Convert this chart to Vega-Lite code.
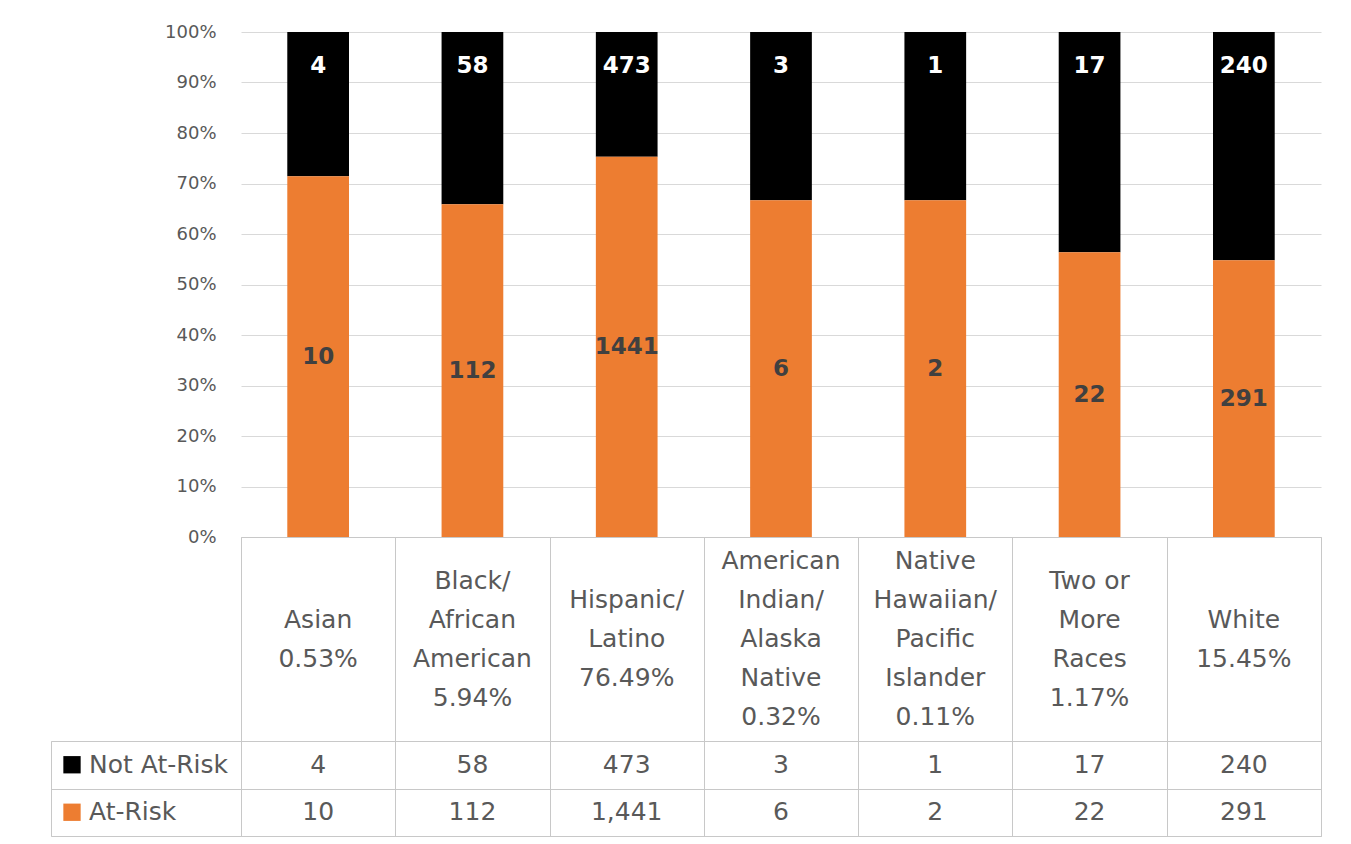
{
  "$schema": "https://vega.github.io/schema/vega-lite/v6.json",
  "background": "white",
  "padding": {"left": 50, "top": 23, "right": 31, "bottom": 8},
  "columns": 2,
  "spacing": 0,
  "bounds": "flush",
  "config": {"font": "DejaVu Sans", "view": {"stroke": null}},
  "datasets": {
    "main": [
      {"group": "Asian", "status": "Not At-Risk", "count": 4},
      {"group": "Asian", "status": "At-Risk", "count": 10},
      {"group": "Black/African American", "status": "Not At-Risk", "count": 58},
      {"group": "Black/African American", "status": "At-Risk", "count": 112},
      {"group": "Hispanic/Latino", "status": "Not At-Risk", "count": 473},
      {"group": "Hispanic/Latino", "status": "At-Risk", "count": 1441},
      {"group": "American Indian/Alaska Native", "status": "Not At-Risk", "count": 3},
      {"group": "American Indian/Alaska Native", "status": "At-Risk", "count": 6},
      {"group": "Native Hawaiian/Pacific Islander", "status": "Not At-Risk", "count": 1},
      {"group": "Native Hawaiian/Pacific Islander", "status": "At-Risk", "count": 2},
      {"group": "Two or More Races", "status": "Not At-Risk", "count": 17},
      {"group": "Two or More Races", "status": "At-Risk", "count": 22},
      {"group": "White", "status": "Not At-Risk", "count": 240},
      {"group": "White", "status": "At-Risk", "count": 291}
    ],
    "groups": [
      {"group": "Asian", "label": "Asian\n0.53%"},
      {"group": "Black/African American", "label": "Black/\nAfrican\nAmerican\n5.94%"},
      {"group": "Hispanic/Latino", "label": "Hispanic/\nLatino\n76.49%"},
      {"group": "American Indian/Alaska Native", "label": "American\nIndian/\nAlaska\nNative\n0.32%"},
      {"group": "Native Hawaiian/Pacific Islander", "label": "Native\nHawaiian/\nPacific\nIslander\n0.11%"},
      {"group": "Two or More Races", "label": "Two or\nMore\nRaces\n1.17%"},
      {"group": "White", "label": "White\n15.45%"}
    ],
    "legend": [
      {"status": "Not At-Risk"},
      {"status": "At-Risk"}
    ]
  },
  "concat": [
    {
      "width": 190, "height": 505,
      "data": {"name": "legend"},
      "mark": {"type": "text", "text": ""},
      "encoding": {}
    },
    {
      "width": 1080, "height": 505,
      "data": {"name": "main"},
      "encoding": {
        "x": {"field": "group", "type": "nominal", "sort": null, "scale": {"paddingInner": 0.6, "paddingOuter": 0.3}, "axis": null}
      },
      "layer": [
        {
          "mark": {"type": "bar"},
          "encoding": {
            "y": {"field": "count", "type": "quantitative", "stack": "normalize",
              "axis": {"values": [0, 0.1, 0.2, 0.3, 0.4, 0.5, 0.6, 0.7, 0.8, 0.9, 1], "format": ".0%", "title": null, "domain": false, "ticks": false, "tickSize": 0, "labelPadding": 25, "labelFontSize": 18, "labelColor": "#595959", "grid": true, "gridColor": "#D9D9D9"}},
            "color": {"field": "status", "type": "nominal", "scale": {"domain": ["Not At-Risk", "At-Risk"], "range": ["#000000", "#ED7D31"]}, "legend": null},
            "order": {"field": "status", "sort": "ascending"}
          }
        },
        {
          "mark": {"type": "text", "fontSize": 23, "fontWeight": "bold", "color": "#404040", "baseline": "middle"},
          "encoding": {
            "y": {"field": "count", "type": "quantitative", "stack": "normalize", "bandPosition": 0.5,
              "axis": {"values": [0, 0.1, 0.2, 0.3, 0.4, 0.5, 0.6, 0.7, 0.8, 0.9, 1], "format": ".0%", "title": null, "domain": false, "ticks": false, "tickSize": 0, "labelPadding": 25, "labelFontSize": 18, "labelColor": "#595959", "grid": true, "gridColor": "#D9D9D9"}},
            "detail": {"field": "status"},
            "order": {"field": "status", "sort": "ascending"},
            "text": {"condition": {"test": "datum.status === 'At-Risk'", "field": "count", "type": "quantitative"}, "value": ""}
          }
        },
        {
          "mark": {"type": "text", "fontSize": 23, "fontWeight": "bold", "color": "#FFFFFF", "baseline": "middle", "dy": 34},
          "encoding": {
            "y": {"field": "count", "type": "quantitative", "stack": "normalize",
              "axis": {"values": [0, 0.1, 0.2, 0.3, 0.4, 0.5, 0.6, 0.7, 0.8, 0.9, 1], "format": ".0%", "title": null, "domain": false, "ticks": false, "tickSize": 0, "labelPadding": 25, "labelFontSize": 18, "labelColor": "#595959", "grid": true, "gridColor": "#D9D9D9"}},
            "detail": {"field": "status"},
            "order": {"field": "status", "sort": "ascending"},
            "text": {"condition": {"test": "datum.status === 'Not At-Risk'", "field": "count", "type": "quantitative"}, "value": ""}
          }
        }
      ]
    },
    {
      "width": 190, "height": 204,
      "data": {"name": "legend"},
      "mark": {"type": "text", "text": ""},
      "encoding": {}
    },
    {
      "width": 1080, "height": 204,
      "view": {"stroke": "#C8C8C8"},
      "data": {"name": "groups"},
      "mark": {"type": "text", "fontSize": 25, "color": "#595959", "lineBreak": "\n", "lineHeight": 39, "baseline": "middle",
        "dy": {"expr": "-(length(split(datum.label, '\\n')) - 1) * 19.5"}},
      "encoding": {
        "x": {"field": "group", "type": "nominal", "sort": null, "scale": {"paddingInner": 0, "paddingOuter": 0},
          "axis": {"title": null, "labels": false, "ticks": false, "domain": false, "grid": true, "tickBand": "extent", "gridColor": "#C8C8C8"}},
        "text": {"field": "label"}
      }
    },
    {
      "width": 190, "height": 95,
      "view": {"stroke": "#C8C8C8"},
      "data": {"name": "legend"},
      "encoding": {
        "y": {"field": "status", "type": "nominal", "sort": null, "scale": {"domain": ["Not At-Risk", "At-Risk"], "paddingInner": 0, "paddingOuter": 0},
          "axis": {"title": null, "labels": false, "ticks": false, "domain": false, "grid": true, "tickBand": "extent", "gridColor": "#C8C8C8"}}
      },
      "layer": [
        {
          "mark": {"type": "square", "size": 300, "opacity": 1, "filled": true, "xOffset": -74},
          "encoding": {
            "color": {"field": "status", "type": "nominal", "scale": {"domain": ["Not At-Risk", "At-Risk"], "range": ["#000000", "#ED7D31"]}, "legend": null}
          }
        },
        {
          "mark": {"type": "text", "align": "left", "baseline": "middle", "xOffset": -57, "fontSize": 25, "color": "#595959"},
          "encoding": {"text": {"field": "status"}}
        }
      ]
    },
    {
      "width": 1080, "height": 95,
      "view": {"stroke": "#C8C8C8"},
      "data": {"name": "main"},
      "mark": {"type": "text", "fontSize": 25, "color": "#595959", "baseline": "middle"},
      "encoding": {
        "x": {"field": "group", "type": "nominal", "sort": null, "scale": {"paddingInner": 0, "paddingOuter": 0},
          "axis": {"title": null, "labels": false, "ticks": false, "domain": false, "grid": true, "tickBand": "extent", "gridColor": "#C8C8C8"}},
        "y": {"field": "status", "type": "nominal", "sort": null, "scale": {"domain": ["Not At-Risk", "At-Risk"], "paddingInner": 0, "paddingOuter": 0},
          "axis": {"title": null, "labels": false, "ticks": false, "domain": false, "grid": true, "tickBand": "extent", "gridColor": "#C8C8C8"}},
        "text": {"field": "count", "type": "quantitative", "format": ","}
      }
    }
  ]
}
